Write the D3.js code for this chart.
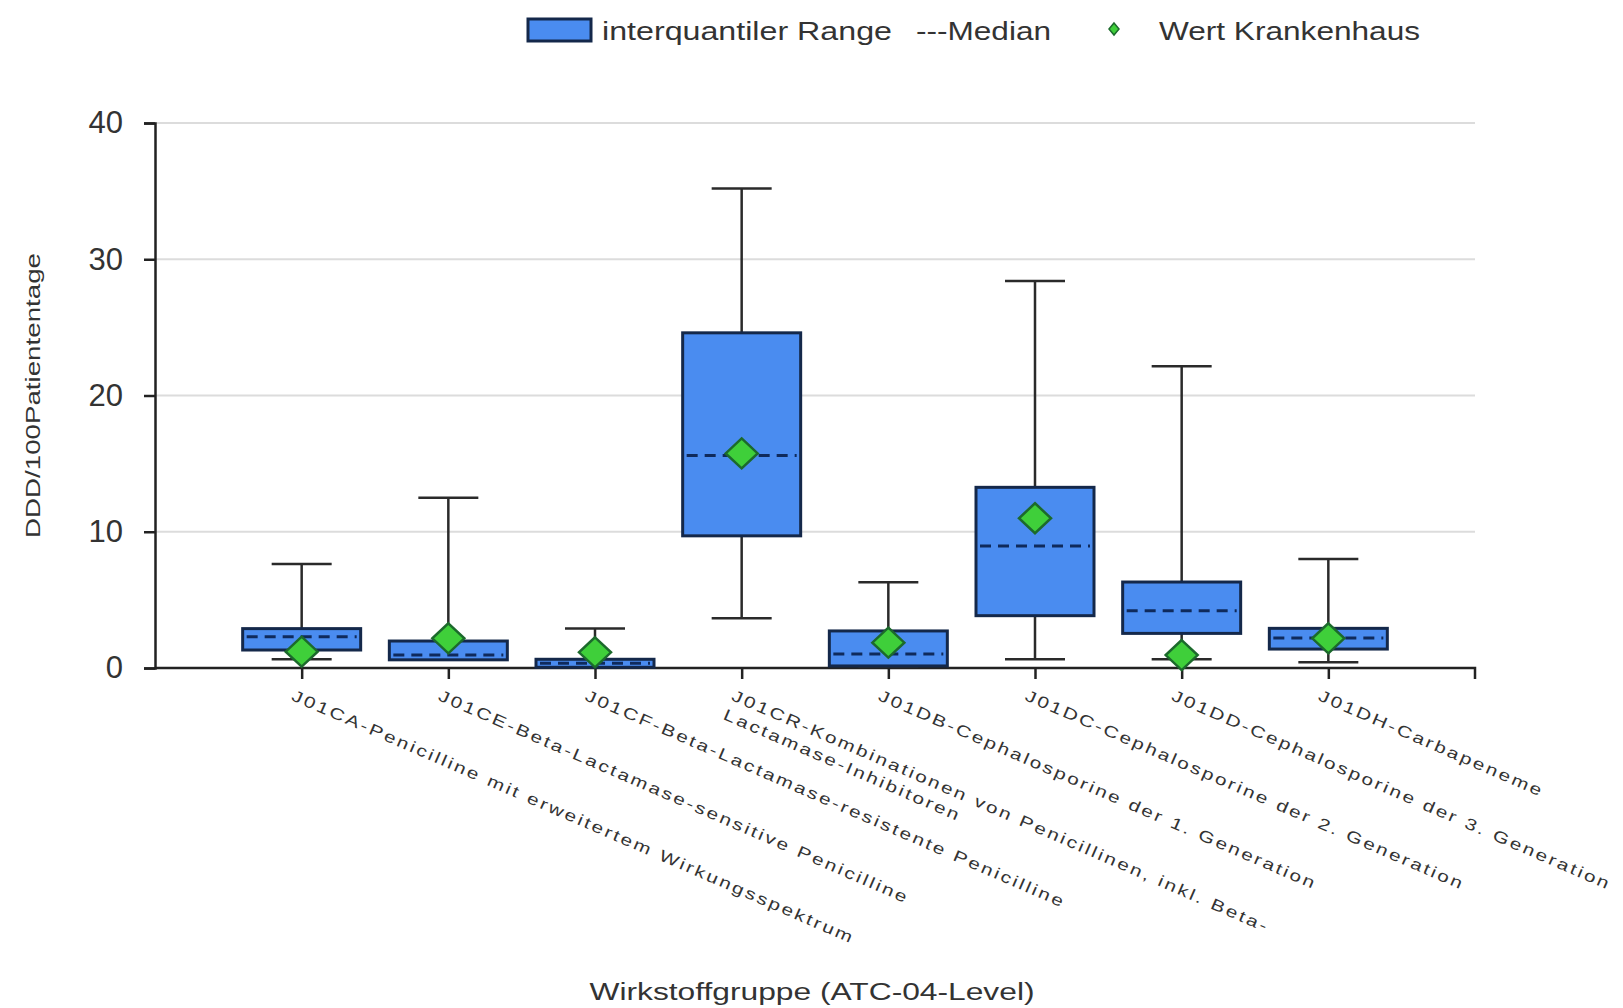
<!DOCTYPE html>
<html>
<head>
<meta charset="utf-8">
<script src="https://cdn.jsdelivr.net/npm/d3@7"></script>
<style>
  body { margin: 0; background: #fff; }
  text { font-family: "Liberation Sans", Arial, sans-serif; fill: #333; }
</style>
</head>
<body>
<svg width="1623" height="1008"></svg>
<script>
// categories (tick labels, split into lines)
var categories = [
  ["J01CA-Penicilline mit erweitertem Wirkungsspektrum"],
  ["J01CE-Beta-Lactamase-sensitive Penicilline"],
  ["J01CF-Beta-Lactamase-resistente Penicilline"],
  ["J01CR-Kombinationen von Penicillinen, inkl. Beta-", "Lactamase-Inhibitoren"],
  ["J01DB-Cephalosporine der 1. Generation"],
  ["J01DC-Cephalosporine der 2. Generation"],
  ["J01DD-Cephalosporine der 3. Generation"],
  ["J01DH-Carbapeneme"]
];
var codes = ["J01CA", "J01CE", "J01CF", "J01CR", "J01DB", "J01DC", "J01DD", "J01DH"];

// box plot values (DDD/100 Patiententage)
var whiskerLow  = [0.64, 0.6, 0.05, 3.65, 0.1, 0.64, 0.64, 0.42];
var q1          = [1.32, 0.6, 0.05, 9.7, 0.15, 3.84, 2.54, 1.39];
var median      = [2.3, 0.95, 0.35, 15.6, 1.03, 8.95, 4.2, 2.2];
var q3          = [2.89, 1.98, 0.64, 24.6, 2.72, 13.26, 6.31, 2.91];
var whiskerHigh = [7.63, 12.5, 2.89, 35.2, 6.29, 28.4, 22.14, 8.0];
var hospital    = [1.2, 2.18, 1.15, 15.75, 1.86, 10.99, 0.95, 2.18];

var yTicks = [0, 10, 20, 30, 40];

var data = codes.map(function(c, i) {
  return {code: c, label: categories[i], lo: whiskerLow[i], q1: q1[i], med: median[i],
          q3: q3[i], hi: whiskerHigh[i], hosp: hospital[i]};
});

var svg = d3.select("svg");
var plotLeft = 155, plotRight = 1475, plotTop = 123, plotBottom = 668;

var x = d3.scalePoint()
  .domain(codes)
  .range([plotLeft, plotRight])
  .padding(1);

var y = d3.scaleLinear()
  .domain([0, 40])
  .range([plotBottom, plotTop]);

// gridlines
svg.append("g")
  .selectAll("line")
  .data(yTicks.filter(function(d) { return d > 0; }))
  .enter().append("line")
    .attr("x1", plotLeft).attr("x2", plotRight)
    .attr("y1", function(d) { return y(d); })
    .attr("y2", function(d) { return y(d); })
    .style("stroke", "#dcdcdc")
    .style("stroke-width", 2);

// y axis
var yAxis = svg.append("g")
  .attr("transform", "translate(" + plotLeft + ",0)")
  .call(d3.axisLeft(y).tickValues(yTicks).tickSize(11).tickPadding(21));
yAxis.select(".domain").style("stroke", "#222").style("stroke-width", 2.5);
yAxis.selectAll(".tick line").style("stroke", "#222").style("stroke-width", 2.5);
yAxis.selectAll(".tick text")
  .style("font-family", "Liberation Sans, Arial, sans-serif")
  .style("font-size", "31px")
  .style("fill", "#333");

// x axis
var xAxis = svg.append("g")
  .attr("transform", "translate(0," + plotBottom + ")")
  .call(d3.axisBottom(x).tickSize(11).tickFormat(""));
xAxis.select(".domain").attr("d", "M" + plotLeft + ",0H" + plotRight + "V11")
  .style("stroke", "#222").style("stroke-width", 2.5);
xAxis.selectAll(".tick line").style("stroke", "#222").style("stroke-width", 2.5);

// rotated category labels
var labels = svg.append("g")
  .selectAll("text")
  .data(data)
  .enter().append("text")
    .attr("transform", function(d) {
      return "translate(" + (x(d.code) - 6) + "," + (plotBottom + 20) + ") rotate(23.5) scale(1.3,1)";
    })
    .style("font-size", "16px")
    .style("letter-spacing", "1.9px")
    .style("fill", "#333");
labels.selectAll("tspan")
  .data(function(d) { return d.label; })
  .enter().append("tspan")
    .attr("x", 0)
    .attr("dy", function(d, i) { return i === 0 ? "0.8em" : "1.3em"; })
    .text(function(d) { return d; });

var boxW = 118, capW = 60;

var boxes = svg.append("g")
  .selectAll("g")
  .data(data)
  .enter().append("g")
    .attr("transform", function(d) { return "translate(" + x(d.code) + ",0)"; });

// whiskers
boxes.append("line")
  .attr("x1", 0).attr("x2", 0)
  .attr("y1", function(d) { return y(d.lo); })
  .attr("y2", function(d) { return y(d.hi); })
  .style("stroke", "#2a2a2a").style("stroke-width", 2.5);
boxes.selectAll(".cap")
  .data(function(d) { return [d.lo, d.hi]; })
  .enter().append("line")
    .attr("class", "cap")
    .attr("x1", -capW / 2).attr("x2", capW / 2)
    .attr("y1", function(v) { return y(v); })
    .attr("y2", function(v) { return y(v); })
    .style("stroke", "#2a2a2a").style("stroke-width", 2.5);

// interquartile box
boxes.append("rect")
  .attr("x", -boxW / 2)
  .attr("width", boxW)
  .attr("y", function(d) { return y(d.q3); })
  .attr("height", function(d) { return y(d.q1) - y(d.q3); })
  .style("fill", "#4a8cf0")
  .style("stroke", "#14284a")
  .style("stroke-width", 3);

// median
boxes.append("line")
  .attr("x1", -boxW / 2 + 4).attr("x2", boxW / 2 - 4)
  .attr("y1", function(d) { return y(d.med); })
  .attr("y2", function(d) { return y(d.med); })
  .style("stroke", "#0f2a5c")
  .style("stroke-width", 3)
  .style("stroke-dasharray", "11,7");

// hospital value
var diamond = function(r, h) { return "M0," + (-h) + "L" + r + ",0L0," + h + "L" + (-r) + ",0Z"; };
boxes.append("path")
  .attr("d", diamond(16, 15))
  .attr("transform", function(d) { return "translate(0," + y(d.hosp) + ")"; })
  .style("fill", "#3fcf3a")
  .style("stroke", "#1c6a2c")
  .style("stroke-width", 2.5);

// axis titles
svg.append("text")
  .attr("transform", "translate(40," + ((plotTop + plotBottom) / 2) + ") rotate(-90)")
  .attr("text-anchor", "middle")
  .attr("textLength", 285)
  .attr("lengthAdjust", "spacingAndGlyphs")
  .style("font-size", "20px")
  .text("DDD/100Patiententage");

svg.append("text")
  .attr("x", 812).attr("y", 1000)
  .attr("text-anchor", "middle")
  .attr("textLength", 445)
  .attr("lengthAdjust", "spacingAndGlyphs")
  .style("font-size", "23px")
  .text("Wirkstoffgruppe (ATC-04-Level)");

// legend
var legend = svg.append("g");
legend.append("rect")
  .attr("x", 528).attr("y", 19).attr("width", 63).attr("height", 22)
  .style("fill", "#4a8cf0").style("stroke", "#14284a").style("stroke-width", 3);
legend.append("text")
  .attr("x", 602).attr("y", 40)
  .attr("textLength", 290).attr("lengthAdjust", "spacingAndGlyphs")
  .style("font-size", "26px")
  .text("interquantiler Range");
legend.append("text")
  .attr("x", 916).attr("y", 40)
  .attr("textLength", 135).attr("lengthAdjust", "spacingAndGlyphs")
  .style("font-size", "26px")
  .text("---Median");
legend.append("path")
  .attr("d", diamond(5, 6))
  .attr("transform", "translate(1114,29)")
  .style("fill", "#3fcf3a").style("stroke", "#1c6a2c").style("stroke-width", 1.5);
legend.append("text")
  .attr("x", 1159).attr("y", 40)
  .attr("textLength", 261).attr("lengthAdjust", "spacingAndGlyphs")
  .style("font-size", "26px")
  .text("Wert Krankenhaus");
</script>
</body>
</html>
